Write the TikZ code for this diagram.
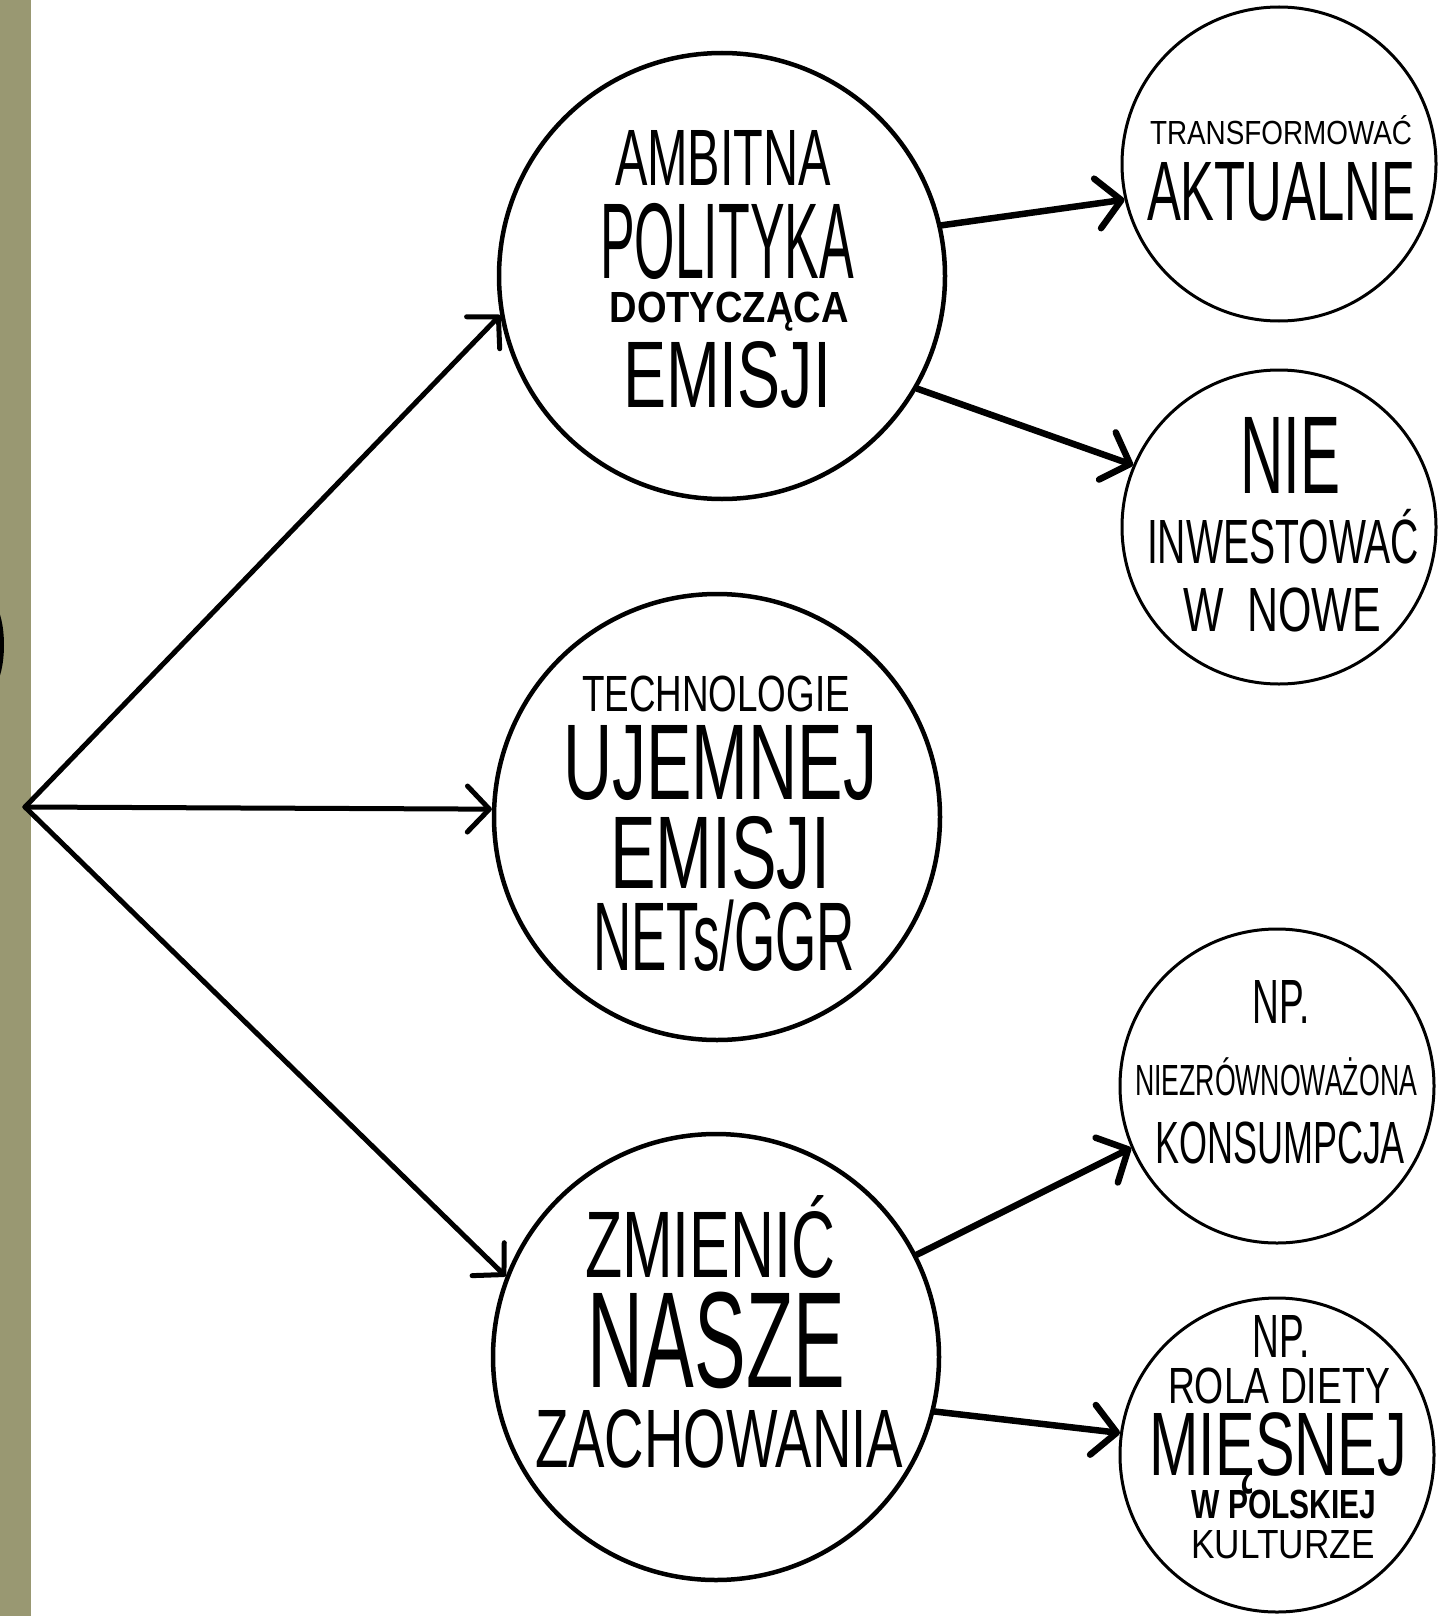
\documentclass[tikz,border=0pt]{standalone}
\usepackage{fontspec}
\usepackage{graphicx}
\setmainfont{Liberation Sans}
\usetikzlibrary{arrows.meta}
\definecolor{olivestrip}{RGB}{153,152,114}
% one text line: [dx]{width}{cap height}{text}
\newcommand\Ln[4][0]{\hbox to 0pt{\kern\dimexpr #1pt-#2pt/2\relax\resizebox{#2pt}{#3pt}{\smash{#4}\rule{0pt}{\fontcharht\font`H}}\hss}}
\tikzset{
  bigc/.style={circle, draw, line width=4.5pt, minimum size=446pt, inner sep=0pt, font=\fontsize{10}{12}\selectfont},
  smallc/.style={circle, draw, line width=3pt, minimum size=314pt, inner sep=0pt, font=\fontsize{10}{12}\selectfont},
  conn/.style={line width=5pt, line cap=round, -{Straight Barb[length=22pt,width=46pt,round]}},
  conn2/.style={line width=6.5pt, line cap=round, -{Straight Barb[length=24pt,width=50pt,round]}}
}
\begin{document}
\begin{tikzpicture}[x=1pt,y=-1pt]
\fill[white] (0,0) rectangle (1442,1616);
\useasboundingbox (0,0) rectangle (1442,1616);
\fill[olivestrip] (0,0) rectangle (31,1616);
\begin{scope}
\clip (0,0) rectangle (31,1616);
\fill[black] (-12,645) ellipse [x radius=16, y radius=46];
\end{scope}

\coordinate (apex) at (25,807);

\node[bigc] (A) at (722,276) {\vbox{\offinterlineskip
  \Ln[1]{216}{55}{AMBITNA}\kern18pt
  \Ln[5]{254}{74}{POLITYKA}\kern14pt
  \Ln[7]{239}{30}{\bfseries DOTYCZĄCA}\kern20pt
  \Ln[5]{208}{65}{EMISJI}\kern14pt}};

\node[bigc] (B) at (717,817) {\vbox{\offinterlineskip\kern13pt
  \Ln[-1]{268}{35}{TECHNOLOGIE}\kern14pt
  \Ln[3]{314}{74}{UJEMNEJ}\kern18pt
  \Ln[3]{220}{71}{EMISJI}\kern15pt
  \Ln[7]{262}{67}{NETs/GGR}}};

\node[bigc] (C) at (716,1357) {\vbox{\offinterlineskip
  \Ln[-6]{250}{65}{ZMIENIĆ}\kern16pt
  \Ln[0]{258}{94}{NASZE}\kern23pt
  \Ln[3]{368}{57}{ZACHOWANIA}\kern35pt}};

\node[smallc] (S1) at (1279,164) {\vbox{\offinterlineskip\kern14pt
  \Ln[2]{262}{23}{TRANSFORMOWAĆ}\kern17pt
  \Ln[2]{268}{58}{AKTUALNE}}};

\node[smallc] (S2) at (1279,527) {\vbox{\offinterlineskip
  \Ln[11]{100}{76}{NIE}\kern27pt
  \Ln[4]{272}{43}{INWESTOWAĆ}\kern25pt
  \Ln[3]{198}{43}{W\ \ NOWE}\kern6pt}};

\node[smallc] (S3) at (1277,1086) {\vbox{\offinterlineskip
  \Ln[4]{57}{43}{NP.}\kern42pt
  \Ln[-1]{282}{30}{NIEZRÓWNOWAŻONA}\kern27pt
  \Ln[3]{250}{41}{KONSUMPCJA}\kern29pt}};

\node[smallc] (S4) at (1277,1455) {\vbox{\offinterlineskip
  \Ln[4]{57}{42}{NP.}\kern11pt
  \Ln[2]{222}{35}{ROLA DIETY}\kern10pt
  \Ln[1]{257}{62}{MIĘSNEJ}\kern15pt
  \Ln[7]{185}{28}{\bfseries W POLSKIEJ}\kern12pt
  \Ln[6]{183}{28}{KULTURZE}\kern37pt}};

\draw[conn] (apex) -- (A.190);
\draw[conn] (apex) -- (B.178);
\draw[conn] (apex) -- (C.159);
\draw[conn2] (A.13) -- (S1.193);
\draw[conn2] (A.330) -- (S2.157);
\draw[conn2] (C.27) -- (S3.203);
\draw[conn2] (C.346) -- (S4.172);
\end{tikzpicture}
\end{document}
